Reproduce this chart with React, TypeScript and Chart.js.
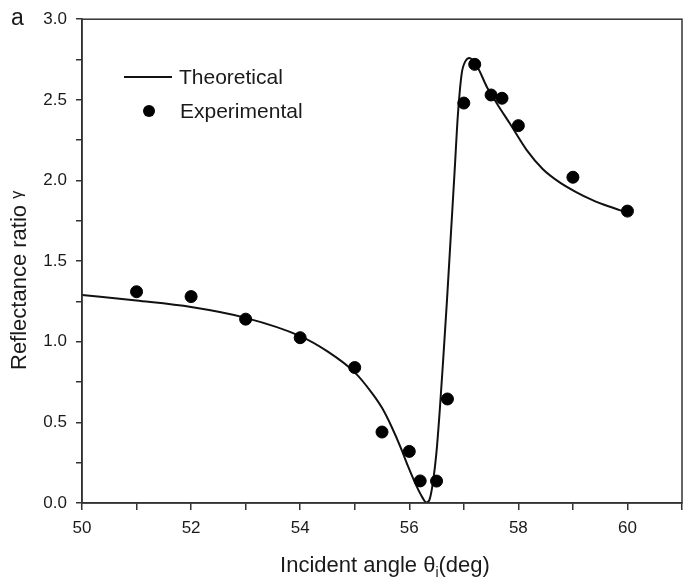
import React, { useEffect, useRef } from "react";
import { Chart, registerables } from "chart.js";

Chart.register(...registerables);

// Experimental measurements
const expAngle = [51, 52, 53, 54, 55, 55.5, 56, 56.2, 56.5, 56.7, 57, 57.2, 57.5, 57.7, 58, 59, 60];
const expRatio = [1.31, 1.28, 1.14, 1.025, 0.84, 0.44, 0.32, 0.137, 0.136, 0.645, 2.48, 2.72, 2.53, 2.51, 2.34, 2.02, 1.81];

// Theoretical curve
const theoAngle = [50, 51, 52, 53, 54, 54.5, 55, 55.32, 55.5, 55.68, 55.86, 55.98, 56.14, 56.24, 56.31, 56.37, 56.43, 56.5, 56.56, 56.62, 56.69, 56.76, 56.83, 56.89, 56.96, 57.03, 57.1, 57.24, 57.43, 57.62, 57.85, 58.15, 58.45, 58.75, 59.05, 59.35, 59.65, 60];
const theoRatio = [1.29, 1.255, 1.215, 1.148, 1.035, 0.94, 0.81, 0.68, 0.59, 0.47, 0.33, 0.225, 0.1, 0.035, 0.003, 0.02, 0.12, 0.32, 0.58, 0.88, 1.25, 1.65, 2.05, 2.4, 2.66, 2.74, 2.76, 2.71, 2.575, 2.47, 2.35, 2.19, 2.07, 1.99, 1.93, 1.88, 1.84, 1.8];

const xTickMin = 50;
const xTickMax = 61;
const yTickMin = 0;
const yTickMax = 3;

const FONT = "'Liberation Sans', Arial, sans-serif";
const TEXT = "#1a1a1a";
const AXIS = "#333333";

const decorPlugin = {
  id: "decor",
  afterDraw(chart: any) {
    const { ctx, chartArea } = chart;
    ctx.save();
    // frame
    ctx.strokeStyle = AXIS;
    ctx.lineWidth = 1.5;
    ctx.strokeRect(chartArea.left, chartArea.top, chartArea.right - chartArea.left, chartArea.bottom - chartArea.top);

    ctx.fillStyle = TEXT;
    // panel letter
    ctx.font = `23px ${FONT}`;
    ctx.textAlign = "left";
    ctx.textBaseline = "alphabetic";
    ctx.fillText("a", 11, 25);

    // legend
    const theo = chart.data.datasets[1];
    const exp = chart.data.datasets[0];
    ctx.strokeStyle = theo.borderColor;
    ctx.lineWidth = 2;
    ctx.beginPath();
    ctx.moveTo(124, 77);
    ctx.lineTo(172, 77);
    ctx.stroke();
    ctx.font = `21px ${FONT}`;
    ctx.textBaseline = "middle";
    ctx.fillText(theo.label, 179, 78);
    ctx.fillStyle = exp.backgroundColor;
    ctx.beginPath();
    ctx.arc(149, 111, 6, 0, Math.PI * 2);
    ctx.fill();
    ctx.fillStyle = TEXT;
    ctx.fillText(exp.label, 180, 112);

    // x axis title with subscript
    ctx.textBaseline = "alphabetic";
    const p1 = "Incident angle \u03b8";
    const p2 = "i";
    const p3 = "(deg)";
    ctx.font = `22px ${FONT}`;
    const w1 = ctx.measureText(p1).width;
    const w3 = ctx.measureText(p3).width;
    ctx.font = `14px ${FONT}`;
    const w2 = ctx.measureText(p2).width;
    const total = w1 + w2 + w3;
    const cx = (chartArea.left + chartArea.right) / 2 + 3;
    const x0 = cx - total / 2;
    const base = 572;
    ctx.font = `22px ${FONT}`;
    ctx.fillText(p1, x0, base);
    ctx.font = `14px ${FONT}`;
    ctx.fillText(p2, x0 + w1, base + 5);
    ctx.font = `22px ${FONT}`;
    ctx.fillText(p3, x0 + w1 + w2, base);

    // y axis title
    ctx.translate(26, 370);
    ctx.rotate(-Math.PI / 2);
    ctx.font = `22px ${FONT}`;
    ctx.textAlign = "left";
    const yt = "Reflectance ratio ";
    ctx.fillText(yt, 0, 0);
    const wy = ctx.measureText(yt).width;
    ctx.font = `16px ${FONT}`;
    ctx.fillText("\u03b3", wy, -4);
    ctx.restore();
  },
};

export default function App() {
  const ref = useRef<HTMLCanvasElement | null>(null);

  useEffect(() => {
    if (!ref.current) return;
    const chart = new Chart(ref.current, {
      type: "scatter",
      data: {
        datasets: [
          {
            label: "Experimental",
            data: expAngle.map((x, i) => ({ x, y: expRatio[i] })),
            backgroundColor: "#000000",
            borderColor: "#000000",
            pointRadius: 6,
            pointHoverRadius: 6,
            showLine: false,
          },
          {
            label: "Theoretical",
            data: theoAngle.map((x, i) => ({ x, y: theoRatio[i] })),
            borderColor: "#111111",
            backgroundColor: "#111111",
            borderWidth: 2,
            pointRadius: 0,
            showLine: true,
            cubicInterpolationMode: "monotone",
          } as any,
        ],
      },
      plugins: [decorPlugin],
      options: {
        animation: false,
        responsive: false,
        devicePixelRatio: 1,
        layout: { padding: { top: 16, right: 3, left: 0, bottom: 0 } },
        plugins: {
          legend: { display: false },
          tooltip: { enabled: false },
          title: { display: false },
        },
        scales: {
          x: {
            type: "linear",
            min: xTickMin,
            max: xTickMax,
            afterFit: (s: any) => {
              s.height = 78;
            },
            ticks: {
              stepSize: 1,
              autoSkip: false,
              maxRotation: 0,
              padding: 8,
              color: TEXT,
              font: { family: FONT, size: 17 },
              callback: (v: any) => (Number(v) % 2 === 0 ? String(v) : ""),
            },
            grid: {
              drawOnChartArea: false,
              drawTicks: true,
              tickLength: 7,
              color: AXIS,
              lineWidth: 1.5,
            },
            border: { display: true, color: AXIS, width: 1.5 },
          },
          y: {
            type: "linear",
            min: yTickMin,
            max: yTickMax,
            afterFit: (s: any) => {
              s.width = 82;
            },
            ticks: {
              stepSize: 0.25,
              autoSkip: false,
              padding: 9,
              color: TEXT,
              font: { family: FONT, size: 17 },
              callback: (v: any) => {
                const n = Number(v);
                return Math.abs(n * 2 - Math.round(n * 2)) < 1e-9 ? n.toFixed(1) : "";
              },
            },
            grid: {
              drawOnChartArea: false,
              drawTicks: true,
              tickLength: 6,
              color: AXIS,
              lineWidth: 1.5,
            },
            border: { display: true, color: AXIS, width: 1.5 },
          },
        },
      },
    });
    return () => chart.destroy();
  }, []);

  return (
    <div style={{ position: "absolute", left: 0, top: 0, width: 690, height: 581, background: "#fff" }}>
      <canvas ref={ref} width={690} height={581} style={{ display: "block" }} />
    </div>
  );
}
